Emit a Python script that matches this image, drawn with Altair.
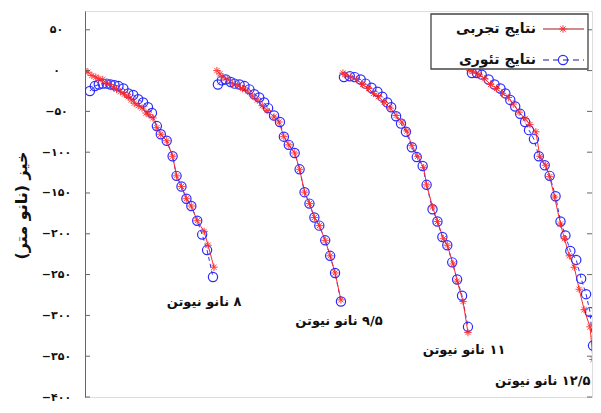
import altair as alt
import pandas as pd

# ---- data (x: position along the plot, arbitrary units; y: deflection in nm) ----
c1_exp_x = [0, 3, 7, 11, 14, 18, 21, 25, 29, 32, 36, 40, 44, 47, 50, 54, 58, 62, 65, 69, 73, 77, 83, 89, 93, 98, 103, 108, 114, 121, 125, 131]
c1_exp_y = [0, -2, -6, -8, -10, -11, -15, -17, -21, -23, -26, -29, -32, -36, -40, -43, -46, -52, -54, -58, -70, -78, -86, -105, -129, -142, -157, -166, -184, -197, -214, -241]
c1_th_x = [5, 10, 14, 18, 22, 26, 30, 34, 39, 44, 49, 54, 59, 64, 68, 73, 77, 83, 89, 93, 98, 103, 108, 114, 119, 124, 130]
c1_th_y = [-25, -19, -17, -16, -16, -17, -18, -19, -22, -28, -30, -35, -39, -45, -52, -68, -78, -86, -105, -129, -142, -157, -166, -184, -201, -220, -253]

c2_exp_x = [134, 137, 140, 145, 150, 155, 160, 165, 170, 175, 180, 185, 192, 197, 202, 207, 213, 218, 223, 228, 233, 238, 244, 249, 254, 260]
c2_exp_y = [0, -4, -8, -11, -16, -18, -22, -25, -31, -36, -43, -49, -57, -63, -81, -91, -101, -121, -149, -163, -180, -190, -208, -227, -248, -281]
c2_th_x = [135, 139, 143, 148, 152, 157, 162, 167, 172, 177, 182, 186, 192, 198, 202, 207, 213, 218, 223, 228, 233, 238, 244, 249, 254, 260]
c2_th_y = [-17, -12, -11, -14, -16, -17, -19, -23, -29, -33, -39, -46, -55, -63, -81, -91, -101, -121, -149, -163, -180, -190, -208, -227, -248, -283]

c3_exp_x = [262, 264, 270, 276, 282, 288, 293, 298, 304, 310, 316, 322, 327, 332, 338, 344, 347, 353, 358, 364, 368, 374, 378, 384, 389]
c3_exp_y = [-3, -5, -8, -11, -17, -22, -28, -32, -39, -46, -55, -63, -74, -92, -105, -119, -140, -167, -185, -206, -214, -237, -258, -283, -321]
c3_th_x = [263, 269, 274, 280, 285, 291, 297, 302, 307, 311, 316, 321, 326, 332, 337, 343, 347, 353, 358, 363, 368, 373, 378, 383, 389]
c3_th_y = [-8, -7, -8, -11, -16, -21, -26, -32, -39, -45, -56, -65, -75, -94, -106, -117, -140, -170, -185, -204, -214, -235, -256, -276, -314]

c4_exp_x = [391, 394, 400, 406, 412, 418, 424, 430, 435, 441, 447, 452, 458, 462, 468, 472, 477, 483, 487, 492, 497, 502, 507, 513, 516]
c4_exp_y = [0, -1, -5, -10, -17, -22, -28, -33, -41, -51, -59, -66, -75, -105, -116, -130, -155, -188, -206, -227, -241, -268, -293, -314, -354]
c4_th_x = [393, 398, 403, 410, 416, 422, 427, 432, 437, 442, 447, 451, 456, 461, 467, 472, 478, 483, 488, 493, 499, 504, 509, 513, 516]
c4_th_y = [-3, -3, -5, -11, -17, -22, -28, -36, -44, -53, -63, -73, -84, -105, -116, -129, -154, -185, -202, -221, -232, -255, -274, -296, -337]

curve_labels = ["۸ نانو نیوتن", "۹/۵ نانو نیوتن", "۱۱ نانو نیوتن", "۱۲/۵ نانو نیوتن"]
label_x = [121, 258, 385, 465]
label_y = [-283, -307, -342, -380]

y_ticks = [50, 0, -50, -100, -150, -200, -250, -300, -350, -400]
legend_names = ["نتایج تجربی", "نتایج تئوری"]
y_title = "خیز (نانو متر)"

# ---- build tables ----
rows = []
curves = [(c1_exp_x, c1_exp_y, c1_th_x, c1_th_y), (c2_exp_x, c2_exp_y, c2_th_x, c2_th_y),
          (c3_exp_x, c3_exp_y, c3_th_x, c3_th_y), (c4_exp_x, c4_exp_y, c4_th_x, c4_th_y)]
for ci, (ex, ey, tx, ty) in enumerate(curves):
    for i, (a, b) in enumerate(zip(ex, ey)):
        rows.append({"curve": ci, "series": "exp", "x": a, "y": b, "o": i})
    for i, (a, b) in enumerate(zip(tx, ty)):
        rows.append({"curve": ci, "series": "th", "x": a, "y": b, "o": i})
df = pd.DataFrame(rows)
exp_df = df[df.series == "exp"]
th_df = df[df.series == "th"]

lab_df = pd.DataFrame({"t": ["\u200f" + s for s in curve_labels], "x": label_x, "y": label_y})
tick_df = pd.DataFrame({"y": y_ticks})

FONT = "DejaVu Sans"
RED = "#ff2a2a"
BLUE = "#2b2bff"
STAR = "M0,-1L0,1M-1,0L1,0M-0.7,-0.7L0.7,0.7M-0.7,0.7L0.7,-0.7"

digits = str.maketrans("0123456789", "۰۱۲۳۴۵۶۷۸۹")
label_map = ",".join(
    "'%d':'%s'" % (v, ("−" if v < 0 else "") + str(abs(v)).translate(digits)) for v in y_ticks
)
label_expr = "{%s}['' + datum.value]" % label_map

W, H = 507, 386
xs = alt.Scale(domain=[0, 515], nice=False, zero=False)
ys = alt.Scale(domain=[-400, 73], nice=False, zero=False)

X = alt.X("x:Q", scale=xs, axis=None)
Y = alt.Y("y:Q", scale=ys, axis=alt.Axis(
    values=y_ticks, labelExpr=label_expr, ticks=False, tickSize=0, grid=False,
    labelPadding=29, labelAlign="center", labelFont=FONT, labelFontWeight="bold",
    labelFontSize=11, labelColor="#111", domainColor="#666",
    title=y_title + "\u200f", titleFont=FONT, titleFontSize=16, titleFontWeight="bold",
    titleColor="#111", titleX=-64, titleY=194, titleAngle=-90, titleAlign="center",
    titleBaseline="middle"))

th_line = alt.Chart(th_df).mark_line(color=BLUE, strokeWidth=1, strokeDash=[4, 3], clip=True).encode(
    x=X, y=Y, detail="curve:N", order="o:Q")
exp_line = alt.Chart(exp_df).mark_line(color=RED, strokeWidth=1, clip=True).encode(
    x=X, y=Y, detail="curve:N", order="o:Q")
th_pts = alt.Chart(th_df).mark_point(shape="circle", filled=False, color=BLUE, size=85,
                                     strokeWidth=1.2, opacity=1, clip=True).encode(x=X, y=Y)
exp_pts = alt.Chart(exp_df).mark_point(shape=STAR, filled=False, color=RED, size=55,
                                       strokeWidth=1, opacity=0.9, clip=True).encode(x=X, y=Y)

labels = alt.Chart(lab_df).mark_text(font=FONT, fontSize=13, fontWeight="bold", color="#111",
                                     align="center", baseline="middle").encode(
    x=X, y=Y, text="t:N")

ticks_l = alt.Chart(tick_df).mark_rule(color="#666", strokeWidth=1).encode(
    y=Y, x=alt.value(0), x2=alt.value(5))
ticks_r = alt.Chart(tick_df).mark_rule(color="#666", strokeWidth=1).encode(
    y=Y, x=alt.value(W - 5), x2=alt.value(W))

# ---- legend (drawn manually: symbols sit to the right of the Persian text) ----
leg_df = pd.DataFrame({"name": legend_names, "k": [0, 1]})
leg_box = alt.Chart(leg_df.head(1)).mark_rect(fill="white", stroke="#444", strokeWidth=1.3).encode(
    x=alt.value(346), x2=alt.value(503), y=alt.value(3), y2=alt.value(58))
leg_l1 = alt.Chart(leg_df.head(1)).mark_rule(color="#a11a1a", strokeWidth=1.2).encode(
    x=alt.value(458), x2=alt.value(499), y=alt.value(18))
leg_p1 = alt.Chart(leg_df.head(1)).mark_point(shape=STAR, filled=False, color=RED, size=55,
                                             strokeWidth=1, opacity=1).encode(
    x=alt.value(478), y=alt.value(18))
leg_l2 = alt.Chart(leg_df.head(1)).mark_rule(color="#1a1a99", strokeWidth=1.2, strokeDash=[6, 4]).encode(
    x=alt.value(458), x2=alt.value(499), y=alt.value(49))
leg_p2 = alt.Chart(leg_df.head(1)).mark_point(shape="circle", filled=False, color=BLUE, size=85,
                                             strokeWidth=1.2, opacity=1).encode(
    x=alt.value(478), y=alt.value(49))
leg_t1 = alt.Chart(leg_df.head(1)).mark_text(font=FONT, fontSize=14, fontWeight="bold", color="#111",
                                            align="right", baseline="middle").encode(
    x=alt.value(451), y=alt.value(18), text="name:N")
leg_t2 = alt.Chart(leg_df.tail(1)).mark_text(font=FONT, fontSize=14, fontWeight="bold", color="#111",
                                            align="right", baseline="middle").encode(
    x=alt.value(451), y=alt.value(49), text="name:N")

chart = alt.layer(
    th_line, exp_line, th_pts, exp_pts, labels, ticks_l, ticks_r,
    leg_box, leg_l1, leg_p1, leg_l2, leg_p2, leg_t1, leg_t2
).properties(
    width=W, height=H,
    autosize=alt.AutoSizeParams(type="none"),
    padding={"left": 77, "top": 3, "right": 1, "bottom": 8},
).configure_view(stroke="#777", strokeWidth=1).configure(background="white")

chart.save("out.html", embed_options={"renderer": "svg", "actions": False})
